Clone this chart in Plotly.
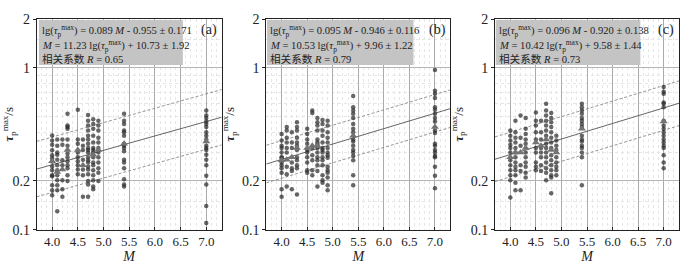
import numpy as np
import plotly.graph_objects as go

# ---------------- data ----------------
M_cols = [4.0, 4.1, 4.2, 4.3, 4.5, 4.6, 4.7, 4.8, 4.9, 5.4, 7.0]

tau_a = [
    [0.382, 0.356, 0.335, 0.309, 0.288, 0.276, 0.264, 0.246, 0.233, 0.217, 0.214, 0.188, 0.175, 0.163],
    [0.36, 0.33, 0.30, 0.29, 0.27, 0.25, 0.233, 0.217, 0.202, 0.188, 0.175, 0.13],
    [0.36, 0.335, 0.268, 0.25, 0.202, 0.178, 0.16],
    [0.52, 0.44, 0.43, 0.42, 0.36, 0.33, 0.295, 0.28, 0.265, 0.25, 0.24, 0.217, 0.20],
    [0.55, 0.36, 0.34, 0.30, 0.28, 0.265, 0.25, 0.235, 0.22],
    [0.36, 0.33, 0.31, 0.27, 0.235, 0.217, 0.16],
    [0.51, 0.47, 0.44, 0.41, 0.38, 0.36, 0.34, 0.32, 0.31, 0.30, 0.28, 0.268, 0.26, 0.245, 0.235, 0.22, 0.20, 0.19, 0.16],
    [0.48, 0.45, 0.42, 0.38, 0.345, 0.32, 0.31, 0.30, 0.28, 0.26, 0.25, 0.233, 0.217, 0.202, 0.185, 0.178],
    [0.47, 0.44, 0.41, 0.37, 0.345, 0.32, 0.30, 0.28, 0.26, 0.24, 0.225, 0.20],
    [0.52, 0.47, 0.45, 0.41, 0.40, 0.38, 0.34, 0.33, 0.32, 0.305, 0.27, 0.26, 0.24, 0.205, 0.19, 0.185],
    [0.544, 0.507, 0.49, 0.465, 0.45, 0.43, 0.40, 0.38, 0.36, 0.33, 0.32, 0.31, 0.29, 0.27, 0.25, 0.215, 0.19, 0.14, 0.11],
]
tau_b = [
    [0.39, 0.356, 0.33, 0.32, 0.30, 0.28, 0.278, 0.26, 0.25, 0.24, 0.225, 0.178, 0.16],
    [0.43, 0.41, 0.37, 0.345, 0.32, 0.30, 0.245, 0.22, 0.185],
    [0.40, 0.345, 0.32, 0.26, 0.24, 0.23, 0.178],
    [0.46, 0.43, 0.41, 0.37, 0.345, 0.33, 0.31, 0.28, 0.268, 0.25, 0.24, 0.165],
    [0.42, 0.39, 0.36, 0.34, 0.31, 0.30, 0.28, 0.26, 0.233, 0.225],
    [0.544, 0.525, 0.32, 0.288, 0.268, 0.233, 0.217],
    [0.49, 0.46, 0.44, 0.41, 0.36, 0.345, 0.335, 0.32, 0.30, 0.28, 0.268, 0.25, 0.23, 0.185],
    [0.475, 0.45, 0.41, 0.38, 0.345, 0.32, 0.31, 0.30, 0.28, 0.268, 0.25, 0.217, 0.202, 0.195],
    [0.47, 0.44, 0.40, 0.37, 0.345, 0.32, 0.30, 0.288, 0.278, 0.245, 0.233, 0.225, 0.21, 0.188, 0.175],
    [0.67, 0.57, 0.544, 0.52, 0.49, 0.45, 0.42, 0.40, 0.36, 0.35, 0.33, 0.31, 0.30, 0.285, 0.268, 0.217, 0.188],
    [0.97, 0.72, 0.69, 0.65, 0.57, 0.55, 0.52, 0.49, 0.465, 0.41, 0.395, 0.34, 0.33, 0.31, 0.30, 0.285, 0.28, 0.245, 0.215, 0.18],
]
tau_c = [
    [0.41, 0.38, 0.356, 0.335, 0.32, 0.30, 0.268, 0.25, 0.233, 0.217, 0.202, 0.158],
    [0.47, 0.40, 0.37, 0.345, 0.32, 0.30, 0.28, 0.26, 0.245, 0.233, 0.217, 0.195, 0.175],
    [0.507, 0.37, 0.33, 0.25, 0.23, 0.175],
    [0.49, 0.42, 0.39, 0.36, 0.34, 0.30, 0.28, 0.26, 0.245, 0.225, 0.21],
    [0.53, 0.47, 0.44, 0.40, 0.36, 0.32, 0.30, 0.26, 0.245, 0.233],
    [0.47, 0.40, 0.36, 0.32, 0.30, 0.28, 0.25, 0.23],
    [0.60, 0.544, 0.507, 0.47, 0.44, 0.41, 0.38, 0.34, 0.32, 0.30, 0.28, 0.26, 0.24, 0.225, 0.202],
    [0.525, 0.49, 0.46, 0.43, 0.40, 0.37, 0.345, 0.32, 0.288, 0.268, 0.25, 0.233, 0.217, 0.21, 0.168],
    [0.38, 0.356, 0.33, 0.31, 0.28, 0.26, 0.245, 0.233, 0.217],
    [0.60, 0.57, 0.544, 0.52, 0.49, 0.47, 0.45, 0.43, 0.38, 0.36, 0.35, 0.33, 0.32, 0.30, 0.28, 0.188],
    [0.76, 0.71, 0.69, 0.61, 0.60, 0.57, 0.47, 0.44, 0.42, 0.40, 0.38, 0.36, 0.345, 0.33, 0.32, 0.288, 0.26, 0.24],
]

# triangles (mean values)
triM_a = [4.0, 4.1, 4.2, 4.3, 4.5, 4.6, 4.8, 4.9, 5.4, 7.0]
triT_a = [0.265, 0.227, 0.235, 0.31, 0.31, 0.25, 0.29, 0.31, 0.34, 0.35]
triM_b = [4.0, 4.1, 4.2, 4.3, 4.5, 4.6, 4.7, 5.4, 7.0]
triT_b = [0.268, 0.27, 0.28, 0.32, 0.32, 0.33, 0.33, 0.38, 0.43]
triM_c = [4.0, 4.1, 4.2, 4.3, 4.5, 4.6, 4.7, 4.8, 4.9, 5.4, 7.0]
triT_c = [0.28, 0.30, 0.30, 0.32, 0.345, 0.33, 0.36, 0.31, 0.30, 0.42, 0.465]

# regression: lg(tau) = k*M + b ± s ;  M = p*lg(tau) + q ± e ; R
fit_k = [0.089, 0.095, 0.096]
fit_b = [-0.955, -0.946, -0.920]
fit_s = [0.171, 0.116, 0.138]
inv_p = [11.23, 10.53, 10.42]
inv_q = [10.73, 9.96, 9.58]
inv_e = [1.92, 1.22, 1.44]
R_vals = [0.65, 0.79, 0.73]
panel_labels = ["(a)", "(b)", "(c)"]

x_ticks = [4.0, 4.5, 5.0, 5.5, 6.0, 6.5, 7.0]
y_ticks = [0.1, 0.2, 1, 2]
y_ticktext = ["0.1", "0.2", "1", "2"]

# ---------------- figure ----------------
W, H = 696, 266
SERIF = "Liberation Serif, Times New Roman, serif"
CJK = "Liberation Serif, Noto Sans CJK SC, serif"

x_doms = [(36.7 / W, 221.7 / W), (266.3 / W, 450.3 / W), (495.0 / W, 679.0 / W)]
y_dom = (1 - 229.7 / H, 1 - 19.0 / H)
box_x1 = [0.79, 0.80, 0.79]
box_x0 = [0.012, 0.004, 0.004]

fig = go.Figure()
taus = [tau_a, tau_b, tau_c]
triMs = [triM_a, triM_b, triM_c]
triTs = [triT_a, triT_b, triT_c]

layout = dict(
    width=W, height=H, margin=dict(l=0, r=0, t=0, b=0, autoexpand=False),
    paper_bgcolor="white", plot_bgcolor="white", showlegend=False,
)
shapes = []
annotations = []

for i in range(3):
    sfx = "" if i == 0 else str(i + 1)
    xa, ya = "x" + sfx, "y" + sfx
    xs, ys = [], []
    for m, col in zip(M_cols, taus[i]):
        xs += [m] * len(col)
        ys += col
    # regression lines
    xl = np.array([3.7, 7.3])
    for off, dash, colr in [(0, "solid", "#555555"), (fit_s[i], "dash", "#8a8a8a"), (-fit_s[i], "dash", "#8a8a8a")]:
        fig.add_trace(go.Scatter(
            x=xl, y=10 ** (fit_k[i] * xl + fit_b[i] + off), mode="lines",
            line=dict(color=colr, width=0.9, dash="3px,2px" if dash == "dash" else "solid"),
            xaxis=xa, yaxis=ya, hoverinfo="skip"))
    fig.add_trace(go.Scatter(
        x=xs, y=ys, mode="markers",
        marker=dict(symbol="circle", size=4.5, color="rgba(45,45,45,0.72)", line=dict(width=0)),
        xaxis=xa, yaxis=ya))
    fig.add_trace(go.Scatter(
        x=triMs[i], y=triTs[i], mode="markers",
        marker=dict(symbol="triangle-up", size=7, color="#737373", line=dict(width=0)),
        xaxis=xa, yaxis=ya))

    layout["xaxis" + sfx] = dict(
        domain=list(x_doms[i]), anchor=ya, range=[3.7, 7.3], automargin=False,
        tickvals=x_ticks, ticktext=[f"{v:.1f}" for v in x_ticks],
        ticks="inside", ticklen=3, tickcolor="#222",
        showline=True, linecolor="#222", linewidth=1, mirror=True,
        showgrid=True, gridcolor="#ababab", gridwidth=1,
        minor=dict(dtick=0.1, tick0=3.7, showgrid=True, gridcolor="#e6e6e6", griddash="dot", gridwidth=1),
        tickfont=dict(family=SERIF, size=13, color="#222"),
        title=dict(text="<i>M</i>", font=dict(family=SERIF, size=14, color="#222"), standoff=1),
        zeroline=False,
    )
    layout["yaxis" + sfx] = dict(
        domain=list(y_dom), anchor=xa, type="log", range=[-1, np.log10(2)], automargin=False,
        tickvals=y_ticks, ticktext=y_ticktext,
        ticks="outside", ticklen=3, tickcolor="#222",
        showline=True, linecolor="#222", linewidth=1, mirror=True,
        showgrid=True, gridcolor="#b5b5b5", gridwidth=1,
        minor=dict(tickvals=[0.3, 0.4, 0.5, 0.6, 0.7, 0.8, 0.9, 0.15, 1.5],
                   showgrid=True, gridcolor="#e6e6e6", griddash="dot", gridwidth=1),
        tickfont=dict(family=SERIF, size=14, color="#222"),
        title=dict(text="<b><i>τ</i></b><sub>p</sub><sup>max</sup>/s",
                   font=dict(family=SERIF, size=13, color="#222"), standoff=4),
        zeroline=False,
    )
    # grey formula box
    shapes.append(dict(type="rect", xref=xa + " domain", yref=ya + " domain",
                       x0=box_x0[i], x1=box_x1[i], y0=0.782, y1=0.995,
                       fillcolor="#c4c4c4", line=dict(width=0), layer="above"))
    lines = [
        f"lg(<i>τ</i><sub>p</sub><sup>max</sup>) = {fit_k[i]:.3f} <i>M</i> - {abs(fit_b[i]):.3f} ± {fit_s[i]:.3f}",
        f"<i>M</i> = {inv_p[i]:.2f} lg(<i>τ</i><sub>p</sub><sup>max</sup>) + {inv_q[i]:.2f} ± {inv_e[i]:.2f}",
        f"相关系数 <i>R</i> = {R_vals[i]:.2f}",
    ]
    ypos = [0.945, 0.872, 0.808]
    for t, yy in zip(lines, ypos):
        annotations.append(dict(text=t, xref=xa + " domain", yref=ya + " domain",
                                x=box_x0[i] + 0.01, y=yy, xanchor="left", yanchor="middle",
                                showarrow=False, borderpad=0,
                                font=dict(family=CJK, size=10.6, color="#222")))
    annotations.append(dict(text=panel_labels[i], xref=xa + " domain", yref=ya + " domain",
                            x=0.985, y=0.948, xanchor="right", yanchor="middle", showarrow=False,
                            font=dict(family=SERIF, size=14, color="#222")))

layout["shapes"] = shapes
layout["annotations"] = annotations
fig.update_layout(**layout)
fig.write_html("out.html", config={"displayModeBar": False},
               post_script="document.body.style.margin='0';document.body.style.padding='0';")
